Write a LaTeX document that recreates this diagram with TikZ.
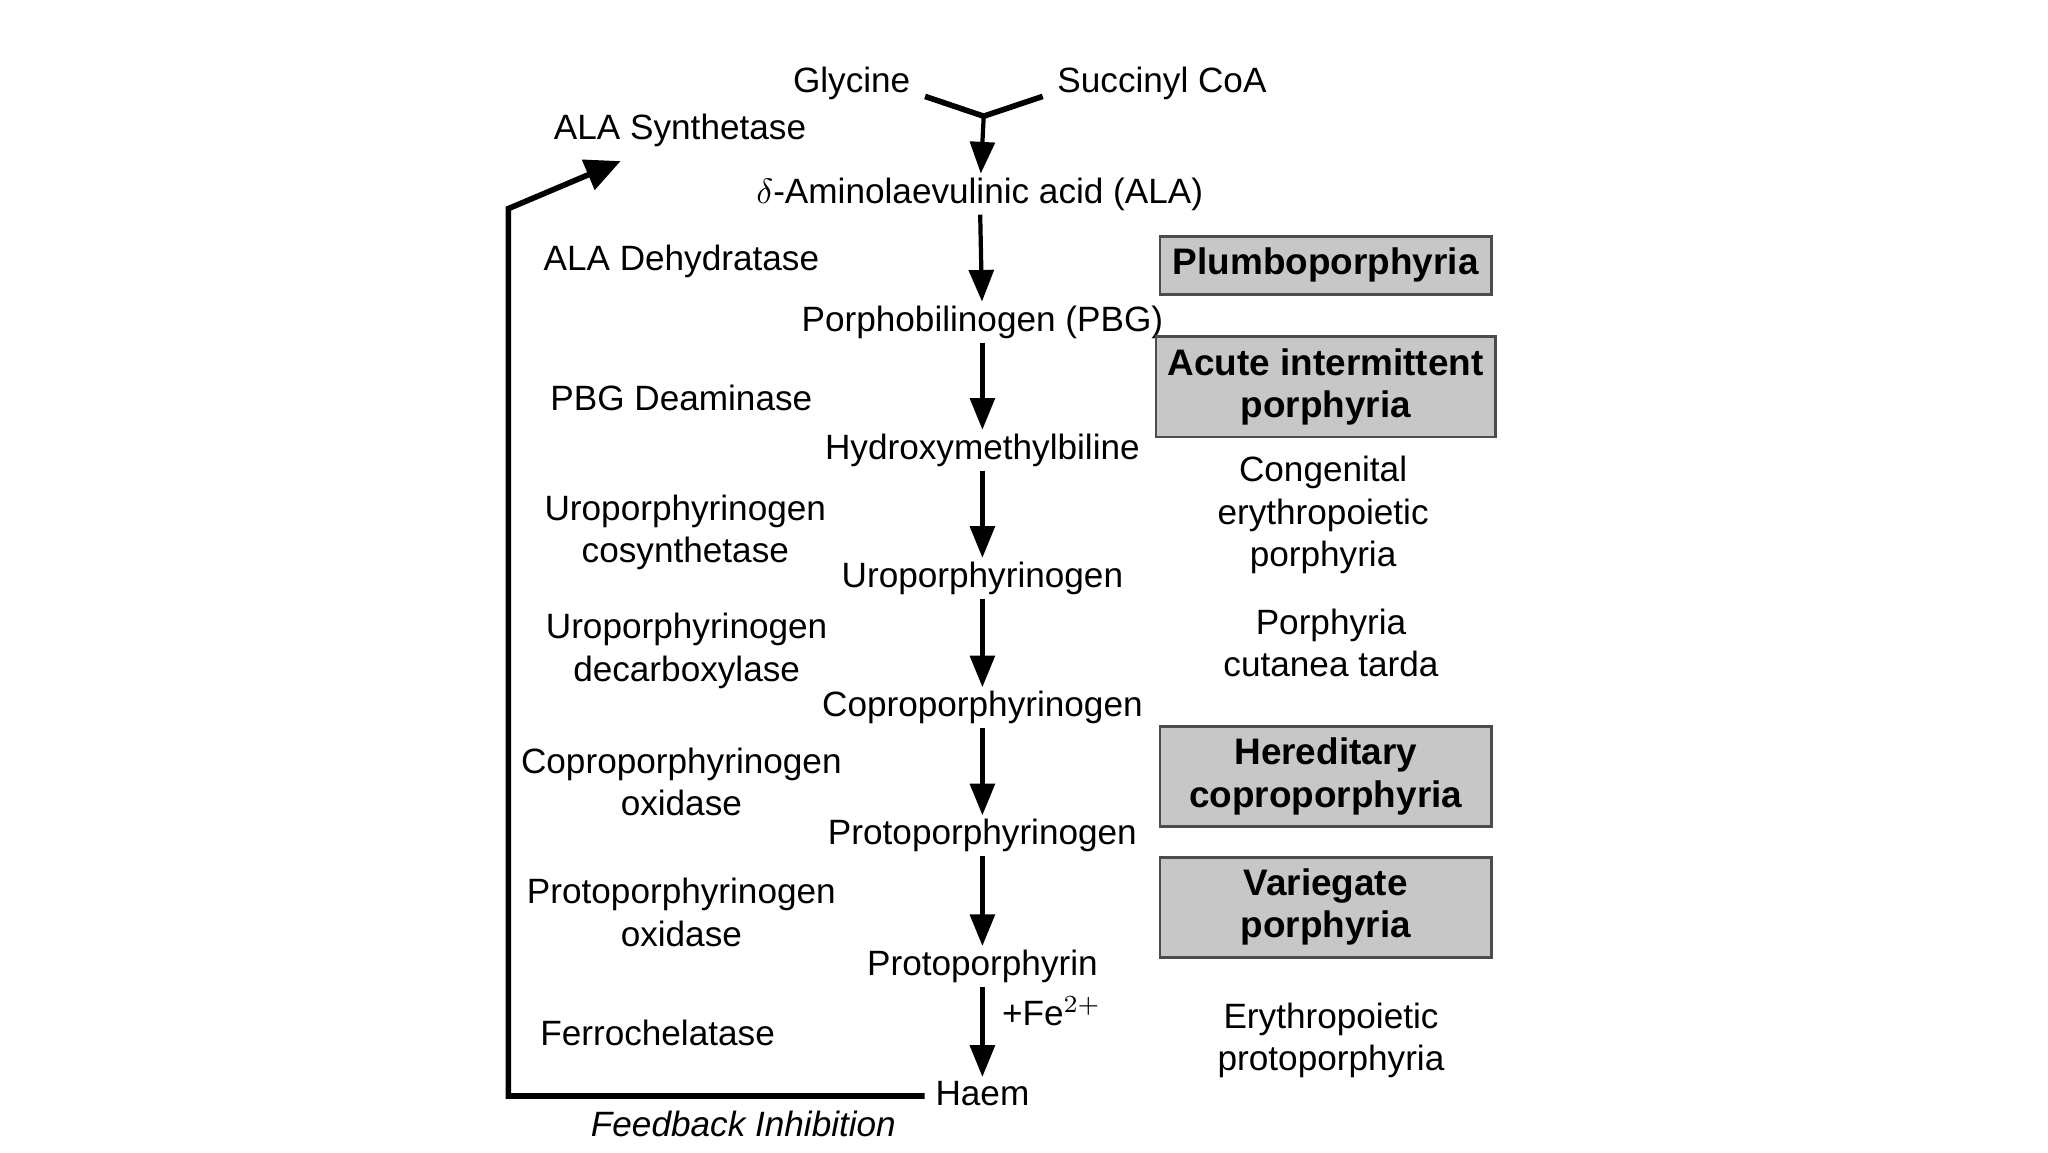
\documentclass[tikz,border=0pt]{standalone}
\usepackage{fontspec}
\setmainfont{Liberation Sans}
\usetikzlibrary{arrows.meta,calc}
\begin{document}
\begin{tikzpicture}
			[x=0.0132cm, y=-0.0132cm, font=\fontsize{10}{12}\selectfont,
			txt/.style ={align=center, inner sep=1pt},
			disease/.style ={draw=black!70, fill=black!22, thick, align=center, font=\fontsize{10.5}{12}\selectfont\bfseries, minimum width=251*0.0132cm},
			reaction/.style ={-{Triangle[length=9pt,width=7pt]}, very thick}]
			\useasboundingbox (0,0) rectangle (1551,873);
			% substrates and intermediates
			\node[txt] (gly) at (645,63) {Glycine};
			\node[txt] (suc) at (880,63) {Succinyl CoA};
			\node[txt] (ala) at (742,147) {$\delta$-Aminolaevulinic acid (ALA)};
			\node[txt] (pbg) at (744,244) {Porphobilinogen (PBG)};
			\node[txt] (hmb) at (744,341) {Hydroxymethylbiline};
			\node[txt] (uro) at (744,438) {Uroporphyrinogen};
			\node[txt] (copro) at (744,536) {Coproporphyrinogen};
			\node[txt] (protogen) at (744,633) {Protoporphyrinogen};
			\node[txt] (proto) at (744,732) {Protoporphyrin};
			\node[txt] (haem) at (744,828) {Haem};
			% enzymes
			\node[txt] (e0) at (515,99) {ALA Synthetase};
			\node[txt] (e1) at (516,198) {ALA Dehydratase};
			\node[txt] (e2) at (516,301) {PBG Deaminase};
			\node[txt] (e3) at (519,403) {Uroporphyrinogen\\cosynthetase};
			\node[txt] (e4) at (520,493) {Uroporphyrinogen\\decarboxylase};
			\node[txt] (e5) at (516,592) {Coproporphyrinogen\\oxidase};
			\node[txt] (e6) at (516,691) {Protoporphyrinogen\\oxidase};
			\node[txt] (e7) at (498,782) {Ferrochelatase};
			% diseases
			\node[disease, minimum height=40*0.0132cm] (d1) at (1004,201) {Plumboporphyria};
			\node[disease, minimum height=63*0.0132cm] (d2) at (1004,293) {Acute intermittent\\porphyria};
			\node[txt] (d3) at (1002,390) {Congenital\\erythropoietic\\porphyria};
			\node[txt] (d4) at (1008,487) {Porphyria\\cutanea tarda};
			\node[disease, minimum height=65*0.0132cm] (d5) at (1004,588) {Hereditary\\coproporphyria};
			\node[disease, minimum height=64*0.0132cm] (d6) at (1004,687) {Variegate\\porphyria};
			\node[txt] (d7) at (1008,788) {Erythropoietic\\protoporphyria};
			% reactions
			\coordinate (join) at (745,88);
			\draw[ultra thick] ($(gly.east)+(8,10)$) -- (join) -- ($(suc.west)+(-8,10)$);
			\draw[reaction] (join) -- (ala);
			\draw[reaction] (ala) -- (pbg);
			\draw[reaction] (pbg) -- (hmb);
			\draw[reaction] (hmb) -- (uro);
			\draw[reaction] (uro) -- (copro);
			\draw[reaction] (copro) -- (protogen);
			\draw[reaction] (protogen) -- (proto);
			\draw[reaction] (proto) -- node[right, txt, xshift=4pt, yshift=6pt] (fe) {+Fe$^{2+}$} (haem);
			% feedback
			\coordinate (fb) at (385,830);
			\coordinate (fbtop) at (385,158);
			\draw[ultra thick, -{Triangle[length=10pt,width=9pt]}] ($(haem.west)+(-5,2)$) -- (fb) -- (fbtop) -- (470,122);
			\node[txt, font=\fontsize{10}{12}\selectfont\itshape] (fbtxt) at (563,851) {Feedback Inhibition};
		\end{tikzpicture}
\end{document}
